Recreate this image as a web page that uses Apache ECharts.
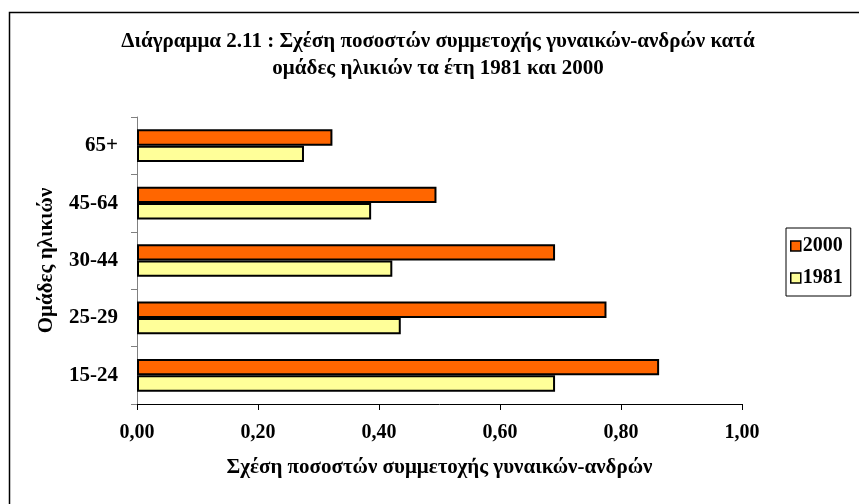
<!DOCTYPE html>
<html lang="el">
<head>
    <meta charset="UTF-8">
    <title>Διάγραμμα 2.11</title>
    <script src="https://cdn.jsdelivr.net/npm/echarts@6/dist/echarts.min.js"></script>
    <style>
        html, body { margin: 0; padding: 0; background: #fff; }
    </style>
</head>
<body>
<div id="chart" style="width: 859px;height:504px;"></div>
<script>
    var ageGroups = ['15-24', '25-29', '30-44', '45-64', '65+'];
    var values2000 = [0.863, 0.776, 0.691, 0.495, 0.323];
    var values1981 = [0.691, 0.436, 0.422, 0.387, 0.276];
    var legendNames = ['2000', '1981'];

    var font = '"Liberation Serif", "Times New Roman", serif';
    var txt = {fontFamily: font, fontWeight: 'bold', fontSize: 21, color: '#000'};

    echarts.init(document.getElementById('chart')).setOption({
        animation: false,
        textStyle: {fontFamily: font},
        graphic: [
            {
                type: 'rect',
                shape: {x: 9.5, y: 12.5, width: 900, height: 600},
                style: {fill: null, stroke: '#000', lineWidth: 1.5},
                silent: true
            }
        ],
        title: {
            text: 'Διάγραμμα 2.11 : Σχέση ποσοστών συμμετοχής γυναικών-ανδρών κατά\nομάδες ηλικιών τα έτη 1981 και 2000',
            left: 438,
            top: 28,
            padding: 0,
            textAlign: 'center',
            textStyle: {fontFamily: font, fontWeight: 'bold', fontSize: 21, lineHeight: 27, color: '#000'}
        },
        legend: {
            data: legendNames,
            orient: 'vertical',
            left: 786,
            top: 228,
            padding: [8, 8, 8, 4],
            itemGap: 12,
            itemWidth: 10,
            itemHeight: 10,
            icon: 'rect',
            borderColor: '#000',
            borderWidth: 1,
            textStyle: {fontFamily: font, fontWeight: 'bold', fontSize: 20, color: '#000', padding: [0, 0, 0, -3]},
            itemStyle: {borderColor: '#000', borderWidth: 1.5}
        },
        grid: {
            left: 137,
            right: 117,
            top: 117,
            bottom: 100
        },
        xAxis: {
            type: 'value',
            min: 0,
            max: 1,
            interval: 0.2,
            name: 'Σχέση ποσοστών συμμετοχής γυναικών-ανδρών',
            nameLocation: 'middle',
            nameGap: 53,
            nameTextStyle: txt,
            axisLine: {show: true, lineStyle: {color: '#000', width: 1}},
            axisTick: {show: true, inside: false, length: 6, lineStyle: {color: '#000'}},
            axisLabel: {
                margin: 19,
                fontFamily: font, fontWeight: 'bold', fontSize: 20, color: '#000',
                formatter: function (v) {
                    return v.toFixed(2).replace('.', ',');
                }
            },
            splitLine: {show: false}
        },
        yAxis: {
            type: 'category',
            data: ageGroups,
            name: 'Ομάδες ηλικιών',
            nameLocation: 'middle',
            nameGap: 80,
            nameTextStyle: txt,
            axisLine: {show: true, lineStyle: {color: '#808080', width: 1}},
            axisTick: {show: true, inside: false, length: 6, lineStyle: {color: '#808080'}},
            axisLabel: {margin: 19, fontFamily: font, fontWeight: 'bold', fontSize: 21, color: '#000'}
        },
        series: [
            {
                name: '2000',
                type: 'bar',
                data: values2000,
                barGap: '0%',
                barCategoryGap: '43%',
                itemStyle: {color: '#FF6600', borderColor: '#000', borderWidth: 2}
            },
            {
                name: '1981',
                type: 'bar',
                data: values1981,
                barGap: '0%',
                barCategoryGap: '43%',
                itemStyle: {color: '#FFFF99', borderColor: '#000', borderWidth: 2}
            }
        ]
    });
</script>
</body>
</html>
